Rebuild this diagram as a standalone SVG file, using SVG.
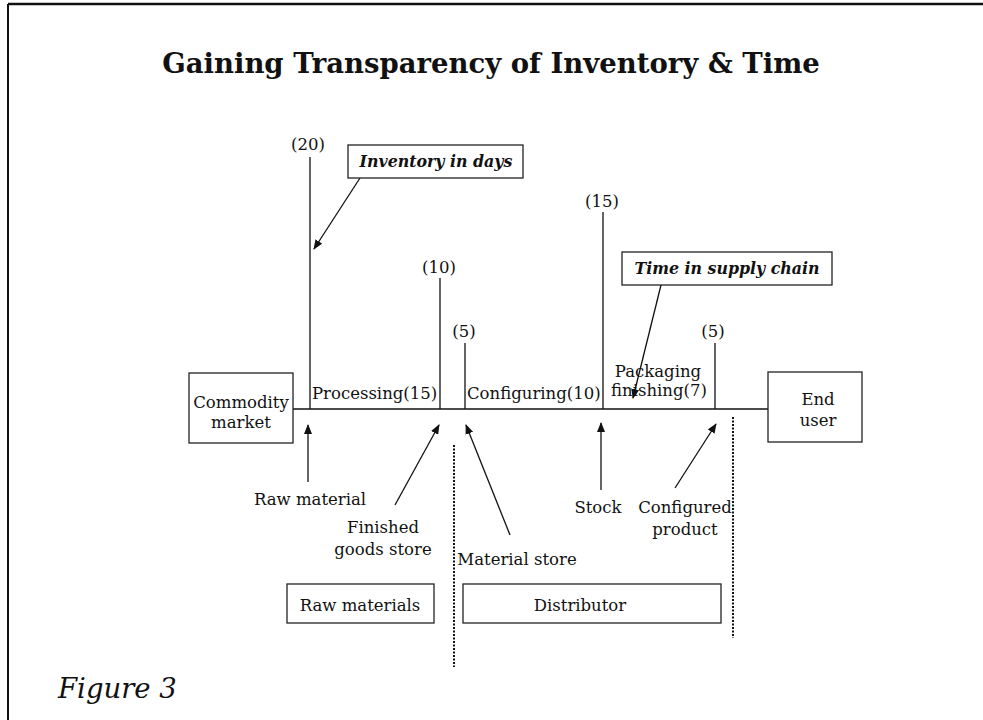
<svg xmlns="http://www.w3.org/2000/svg" width="983" height="720" viewBox="0 0 983 720">
<style>
.t{font-family:"DejaVu Serif","Liberation Serif",serif;font-size:16.5px;fill:#111}
.c{text-anchor:middle}
.bi{font-weight:bold;font-style:italic;font-size:15.8px}
.box{fill:#fff;stroke:#222;stroke-width:1.3}
.ln{stroke:#111;stroke-width:1.3;fill:none}
.ar{stroke:#111;stroke-width:1.3;fill:none;marker-end:url(#ah)}
.dot{stroke:#111;stroke-width:2;stroke-dasharray:2 1.5;fill:none}
</style>
<defs>
<marker id="ah" markerWidth="10" markerHeight="8" refX="9" refY="4" orient="auto" markerUnits="userSpaceOnUse">
<path d="M0,0 L10,4 L0,8 Z" fill="#111"/>
</marker>
</defs>
<rect width="983" height="720" fill="#fff"/>
<g id="frame">
<line x1="8" y1="4" x2="983" y2="4" stroke="#111" stroke-width="2.5"/>
<line x1="8" y1="4" x2="8" y2="720" stroke="#111" stroke-width="2"/>
</g>
<text id="title" class="t c" x="491" y="73" style="font-size:27.5px;font-weight:bold">Gaining Transparency of Inventory &amp; Time</text>
<g id="connectors">
<line class="ln" x1="293" y1="409" x2="768" y2="409"/>
<line class="ln" x1="310" y1="157" x2="310" y2="409"/>
<line class="ln" x1="440" y1="278" x2="440" y2="409"/>
<line class="ln" x1="465" y1="343" x2="465" y2="409"/>
<line class="ln" x1="603" y1="212" x2="603" y2="409"/>
<line class="ln" x1="715" y1="343" x2="715" y2="409"/>
<line class="ar" x1="360" y1="178" x2="314" y2="249"/>
<line class="ar" x1="661" y1="285" x2="633" y2="398"/>
<line class="ar" x1="308" y1="482" x2="308" y2="425"/>
<line class="ar" x1="395" y1="505" x2="439" y2="425"/>
<line class="ar" x1="510" y1="535" x2="466" y2="425"/>
<line class="ar" x1="601" y1="490" x2="601" y2="423"/>
<line class="ar" x1="675" y1="488" x2="716" y2="424"/>
<line class="dot" x1="454" y1="445" x2="454" y2="667"/>
<line class="dot" x1="733" y1="417" x2="733" y2="638"/>
</g>
<g id="commodity">
<rect class="box" x="189" y="373" width="104" height="70"/>
<text class="t c" x="241" y="408">Commodity</text>
<text class="t c" x="241" y="428">market</text>
</g>
<g id="enduser">
<rect class="box" x="768" y="372" width="94" height="70"/>
<text class="t c" x="818" y="405">End</text>
<text class="t c" x="818" y="426">user</text>
</g>
<g id="inventory">
<rect class="box" x="348" y="145" width="175" height="33"/>
<text class="t c bi" x="436" y="167">Inventory in days</text>
</g>
<g id="time">
<rect class="box" x="622" y="252" width="210" height="33"/>
<text class="t c bi" x="727" y="274">Time in supply chain</text>
</g>
<g id="rawmaterials">
<rect class="box" x="287" y="584" width="147" height="39"/>
<text class="t c" x="360" y="611">Raw materials</text>
</g>
<g id="distributor">
<rect class="box" x="463" y="584" width="258" height="39"/>
<text class="t c" x="580" y="611">Distributor</text>
</g>
<g id="labels">
<text class="t c" x="308" y="150">(20)</text>
<text class="t c" x="439" y="273">(10)</text>
<text class="t c" x="464" y="337">(5)</text>
<text class="t c" x="602" y="207">(15)</text>
<text class="t c" x="713" y="337">(5)</text>
<text class="t" x="312" y="399">Processing(15)</text>
<text class="t" x="467" y="399">Configuring(10)</text>
<text class="t c" x="658" y="377">Packaging</text>
<text class="t c" x="659" y="396">finishing(7)</text>
<text class="t c" x="310" y="505">Raw material</text>
<text class="t c" x="383" y="533">Finished</text>
<text class="t c" x="383" y="555">goods store</text>
<text class="t c" x="517" y="565">Material store</text>
<text class="t c" x="598" y="513">Stock</text>
<text class="t c" x="685" y="513">Configured</text>
<text class="t c" x="685" y="535">product</text>
</g>
<text id="figure" class="t" x="58" y="698" style="font-size:27.5px;font-style:italic">Figure 3</text>
</svg>
